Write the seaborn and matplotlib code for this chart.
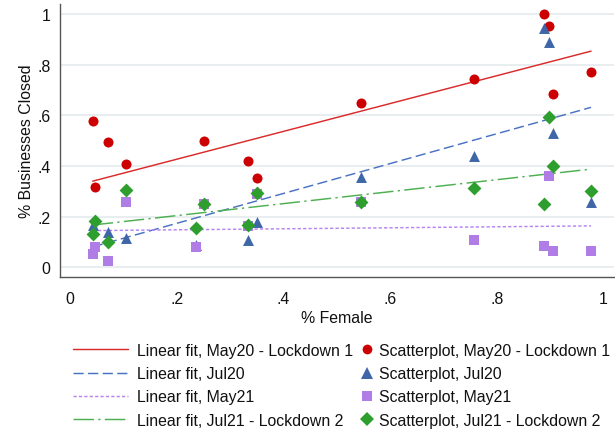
import numpy as np
import pandas as pd
import matplotlib
matplotlib.use("Agg")
import matplotlib.pyplot as plt
import seaborn as sns
from matplotlib.lines import Line2D

# ---------------- data ----------------
pct_female = [0.042, 0.046, 0.070, 0.104, 0.235, 0.250, 0.334, 0.350,
              0.545, 0.757, 0.889, 0.899, 0.905, 0.977]
closed_may20 = [0.576, 0.316, 0.493, 0.407, np.nan, 0.500, 0.420, 0.351,
                0.647, 0.742, 1.000, 0.954, 0.683, 0.772]
closed_jul20 = [0.167, np.nan, 0.138, 0.114, 0.090, np.nan, 0.109, 0.180,
                0.355, 0.441, 0.943, 0.891, 0.530, 0.259]
closed_may21 = [0.051, 0.079, 0.024, 0.257, 0.079, 0.250, 0.163, 0.290,
                0.259, 0.108, 0.083, 0.359, 0.066, 0.066]
closed_jul21 = [0.131, 0.184, 0.099, 0.306, 0.154, 0.250, 0.167, 0.293,
                0.259, 0.313, 0.250, 0.592, 0.401, 0.300]

# linear fits (intercept, slope) as drawn in the reference
fit_intercepts = [0.317, 0.056, 0.144, 0.157]
fit_slopes = [0.549, 0.589, 0.020, 0.236]

series_names = ["May20 - Lockdown 1", "Jul20", "May21", "Jul21 - Lockdown 2"]
tick_vals = [0, 0.2, 0.4, 0.6, 0.8, 1.0]
tick_labels = ["0", ".2", ".4", ".6", ".8", "1"]

# ---------------- styles ----------------
marker_colors = ["#cc0000", "#3f67a8", "#b07ce6", "#2e9e2e"]
line_colors = ["#d92b2b", "#4a72c4", "#b784f0", "#4caf50"]
markers = ["o", "^", "s", "D"]
marker_sizes = [52, 62, 44, 50]
legend_marker_sizes = [7.0, 8.0, 7.0, 7.0]
dash_styles = [(None, None), (7, 3), (2.2, 1.5), (14, 3, 1.5, 3)]
LW = 1.05

sns.set_theme(style="white")
plt.rcParams["font.family"] = ["Liberation Sans", "DejaVu Sans"]
FS = 11.4

fig = plt.figure(figsize=(6.15, 4.31), dpi=100)
ax = fig.add_axes([60 / 615, (431 - 278.3) / 431, (614 - 60) / 615, (278.3 - 5) / 431])

xs = np.array(pct_female)
all_y = [closed_may20, closed_jul20, closed_may21, closed_jul21]

# grid
for tv in tick_vals:
    ax.axhline(tv, color="#e6ecee", lw=1.3, zorder=0)

# fit lines
line_handles = []
for i in range(4):
    xl = np.array([xs.min(), xs.max()])
    yl = fit_intercepts[i] + fit_slopes[i] * xl
    df = pd.DataFrame({"x": xl, "y": yl})
    sns.lineplot(data=df, x="x", y="y", ax=ax, color=line_colors[i], lw=LW, zorder=2)
    ln = ax.lines[-1]
    if dash_styles[i][0] is not None:
        ln.set_dashes(dash_styles[i])
    h = Line2D([0], [0], color=line_colors[i], lw=LW)
    if dash_styles[i][0] is not None:
        h.set_dashes(dash_styles[i])
    line_handles.append(h)

# scatter
scatter_handles = []
for i in range(4):
    df = pd.DataFrame({"x": xs, "y": all_y[i]}).dropna()
    sns.scatterplot(data=df, x="x", y="y", ax=ax, marker=markers[i],
                    color=marker_colors[i], s=marker_sizes[i], linewidth=0,
                    zorder=3 + i)
    scatter_handles.append(Line2D([0], [0], marker=markers[i], color=marker_colors[i],
                                  lw=0, markersize=legend_marker_sizes[i],
                                  markeredgewidth=0))

ax.set_xlim((60 - 70.3) / 533, (614 - 70.3) / 533)
ax.set_ylim(-10 / 253.3, (268.3 - 5) / 253.3)
ax.set_xticks(tick_vals)
ax.set_xticklabels(tick_labels, fontsize=FS)
ax.set_yticks(tick_vals)
ax.set_yticklabels(tick_labels, fontsize=FS)
ax.tick_params(axis="both", direction="out", length=5, width=0.9, color="#555555",
               pad=2, labelcolor="#111111")
ax.tick_params(axis="x", pad=5)
for s in ["top", "right"]:
    ax.spines[s].set_visible(False)
for s in ["left", "bottom"]:
    ax.spines[s].set_color("#555555")
    ax.spines[s].set_linewidth(1.0)

ax.set_xlabel("% Female", fontsize=FS, color="#111111", labelpad=3)
ax.set_ylabel("% Businesses Closed", fontsize=FS, color="#111111", labelpad=2)

leg1 = fig.legend(line_handles, ["Linear fit, " + n for n in series_names],
                  loc="upper left", bbox_to_anchor=(73 / 615, (431 - 344) / 431),
                  frameon=False, fontsize=FS, handlelength=3.45, handletextpad=0.62,
                  borderpad=0, borderaxespad=0, labelspacing=0.52, labelcolor="#111111")
leg2 = fig.legend(scatter_handles, ["Scatterplot, " + n for n in series_names],
                  loc="upper left", bbox_to_anchor=(360 / 615, (431 - 344) / 431),
                  frameon=False, fontsize=FS, handlelength=0.9, handletextpad=0.3,
                  borderpad=0, borderaxespad=0, labelspacing=0.52, labelcolor="#111111")

fig.savefig("out.png", dpi=100)
